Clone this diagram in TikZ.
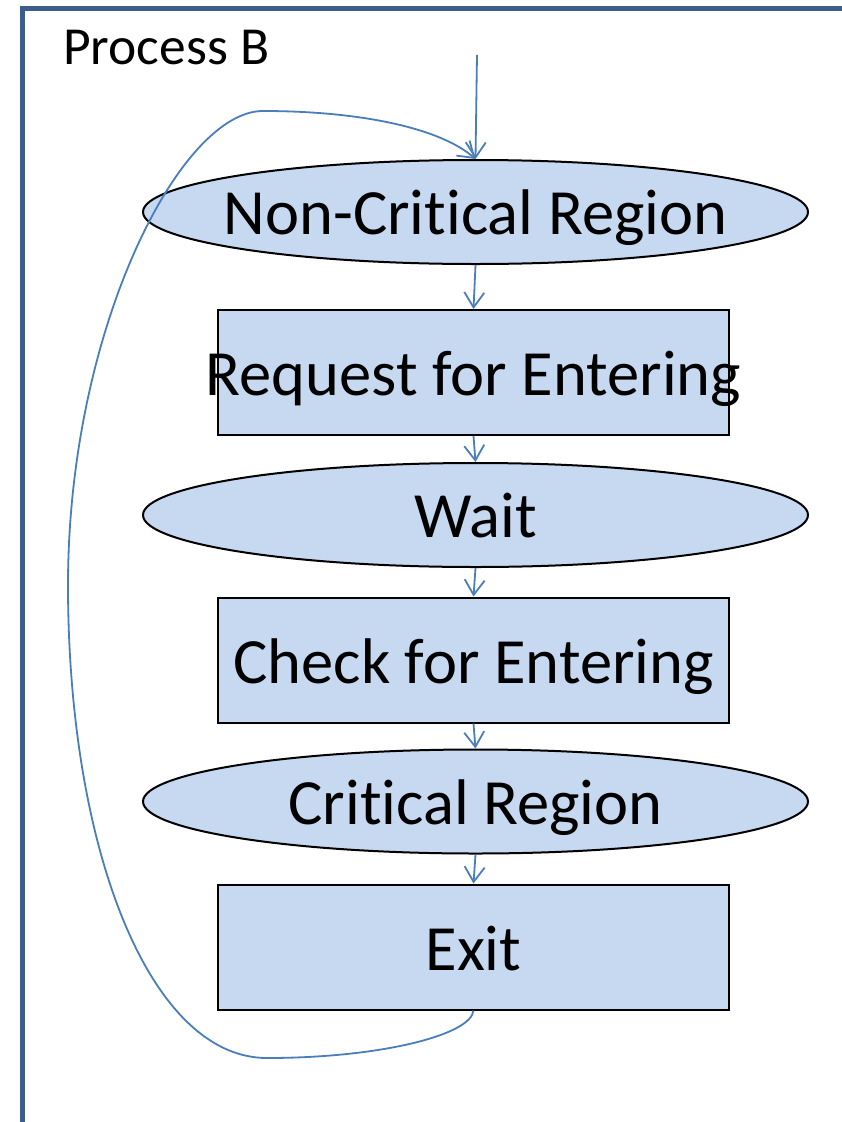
\documentclass[tikz,border=0pt]{standalone}
\usepackage{fontspec}
\setmainfont[Ligatures=NoCommon]{Carlito}
\usetikzlibrary{shapes.geometric,arrows.meta}
\definecolor{framec}{HTML}{3B5E8C}
\definecolor{arrc}{HTML}{4A7EBB}
\definecolor{fillc}{HTML}{C6D9F1}
\tikzset{
  ell/.style={ellipse,draw=black,line width=2pt,fill=fillc,minimum width=665pt,minimum height=104pt,inner sep=-40pt,text height=45pt,text depth=0pt,font=\fontsize{64.5}{72}\selectfont},
  box/.style={rectangle,draw=black,line width=2pt,fill=fillc,minimum width=511pt,minimum height=125pt,inner sep=-20pt,text height=46pt,text depth=0pt,font=\fontsize{64.5}{72}\selectfont},
  conn/.style={draw=arrc,line width=1.8pt,-{Straight Barb[length=15pt,width=20pt,line width=1.8pt]}},
}
\begin{document}
\begin{tikzpicture}[x=1pt,y=-1pt]
\useasboundingbox (0,0) rectangle (842,1122);
\draw[framec,line width=5pt] (22,1124) -- (22,8) -- (844,8);
\node[anchor=base west,inner sep=0pt,font=\fontsize{53.5}{60}\selectfont] (title) at (63,64) {Process B};
\node[ell] (ncr) at (475.5,212) {Non-Critical Region};
\node[box] (req) at (473.5,372.5) {Request for Entering};
\node[ell] (wait) at (475.5,515) {Wait};
\node[box] (chk) at (473.5,660) {Check for Entering};
\node[ell] (crit) at (475.5,801.5) {Critical Region};
\node[box] (exit) at (473.5,947) {Exit};
\coordinate (start) at (477,55);
\coordinate (bot) at (267,1058);
\coordinate (lft) at (68,585);
\coordinate (top) at (263,111);
\draw[conn] (start) -- (ncr.north);
\draw[conn] (ncr.south) -- (req.north);
\draw[conn] (req.south) -- (wait.north);
\draw[conn] (wait.south) -- (chk.north);
\draw[conn] (chk.south) -- (crit.north);
\draw[conn] (crit.south) -- (exit.north);
\draw[conn] (exit.south) .. controls (471,1035) and (380,1058) .. (bot)
  .. controls (150,1058) and (68,850) .. (lft)
  .. controls (68,330) and (180,111) .. (top)
  .. controls (360,111) and (440,128) .. (ncr.north);
\end{tikzpicture}
\end{document}
